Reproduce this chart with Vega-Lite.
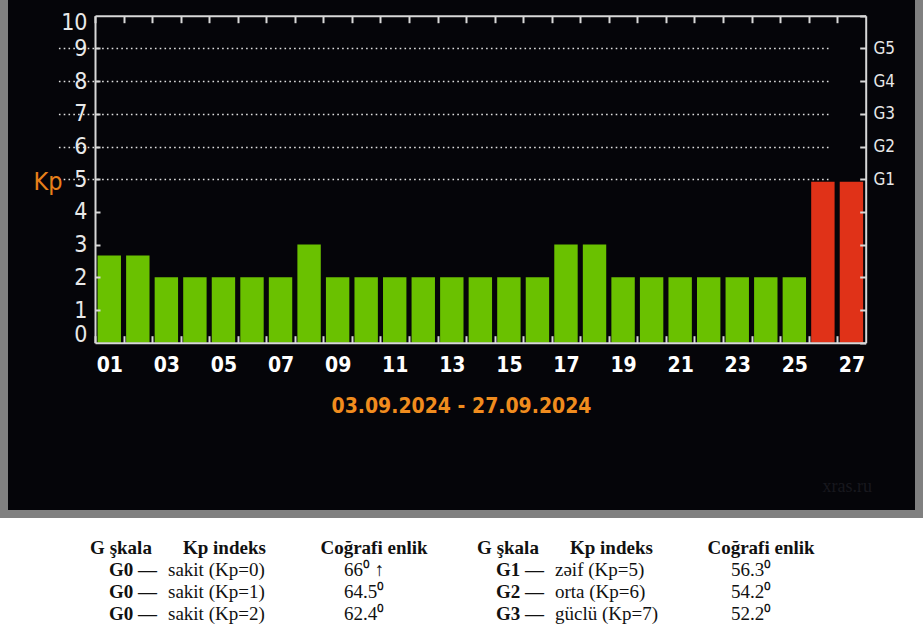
{
  "$schema": "https://vega.github.io/schema/vega-lite/v6.json",
  "background": "#808080",
  "padding": 0,
  "bounds": "flush",
  "spacing": 16,
  "datasets": {
    "kp": [
      {"day": "01", "kp": 2.67}, {"day": "02", "kp": 2.67}, {"day": "03", "kp": 2},
      {"day": "04", "kp": 2}, {"day": "05", "kp": 2}, {"day": "06", "kp": 2},
      {"day": "07", "kp": 2}, {"day": "08", "kp": 3}, {"day": "09", "kp": 2},
      {"day": "10", "kp": 2}, {"day": "11", "kp": 2}, {"day": "12", "kp": 2},
      {"day": "13", "kp": 2}, {"day": "14", "kp": 2}, {"day": "15", "kp": 2},
      {"day": "16", "kp": 2}, {"day": "17", "kp": 3}, {"day": "18", "kp": 3},
      {"day": "19", "kp": 2}, {"day": "20", "kp": 2}, {"day": "21", "kp": 2},
      {"day": "22", "kp": 2}, {"day": "23", "kp": 2}, {"day": "24", "kp": 2},
      {"day": "25", "kp": 2}, {"day": "26", "kp": 4.92}, {"day": "27", "kp": 4.92}
    ],
    "table": [
      {"side": "L", "row": 0, "col": "hg", "text": "G şkala"},
      {"side": "L", "row": 0, "col": "hk", "text": "Kp indeks"},
      {"side": "L", "row": 0, "col": "hc", "text": "Coğrafi enlik"},
      {"side": "R", "row": 0, "col": "hg", "text": "G şkala"},
      {"side": "R", "row": 0, "col": "hk", "text": "Kp indeks"},
      {"side": "R", "row": 0, "col": "hc", "text": "Coğrafi enlik"},
      {"side": "L", "row": 1, "col": "g", "text": "G0 —"},
      {"side": "L", "row": 1, "col": "k", "text": "sakit (Kp=0)"},
      {"side": "L", "row": 1, "col": "c", "text": "66⁰ ↑"},
      {"side": "L", "row": 2, "col": "g", "text": "G0 —"},
      {"side": "L", "row": 2, "col": "k", "text": "sakit (Kp=1)"},
      {"side": "L", "row": 2, "col": "c", "text": "64.5⁰"},
      {"side": "L", "row": 3, "col": "g", "text": "G0 —"},
      {"side": "L", "row": 3, "col": "k", "text": "sakit (Kp=2)"},
      {"side": "L", "row": 3, "col": "c", "text": "62.4⁰"},
      {"side": "R", "row": 1, "col": "g", "text": "G1 —"},
      {"side": "R", "row": 1, "col": "k", "text": "zəif (Kp=5)"},
      {"side": "R", "row": 1, "col": "c", "text": "56.3⁰"},
      {"side": "R", "row": 2, "col": "g", "text": "G2 —"},
      {"side": "R", "row": 2, "col": "k", "text": "orta (Kp=6)"},
      {"side": "R", "row": 2, "col": "c", "text": "54.2⁰"},
      {"side": "R", "row": 3, "col": "g", "text": "G3 —"},
      {"side": "R", "row": 3, "col": "k", "text": "güclü (Kp=7)"},
      {"side": "R", "row": 3, "col": "c", "text": "52.2⁰"}
    ]
  },
  "vconcat": [
    {
      "width": 907,
      "height": 510,
      "view": {"fill": "#050509", "stroke": null},
      "title": {
        "text": "xras.ru", "orient": "bottom", "anchor": "end", "frame": "group",
        "offset": -32, "dx": -43, "color": "#18181e", "font": "Liberation Serif",
        "fontSize": 18, "fontWeight": "normal", "baseline": "top"
      },
      "data": {"name": "kp"},
      "layer": [
        {
          "mark": {"type": "bar", "width": {"band": 0.82}},
          "encoding": {
            "x": {
              "field": "day", "type": "ordinal",
              "scale": {"type": "band", "range": [87, 857.7], "paddingInner": 0, "paddingOuter": 0},
              "axis": {
                "orient": "bottom", "offset": -494.3, "zindex": 1,
                "values": ["01","02","03","04","05","06","07","08","09","10","11","12","13","14","15","16","17","18","19","20","21","22","23","24","25","26","27"],
                "tickOffset": -14.27,
                "labelExpr": "parseInt(datum.value) % 2 == 1 ? datum.value : ''",
                "labelOffset": 14.27, "labelAngle": 0, "labelOverlap": false,
                "tickSize": 7, "tickWidth": 2, "tickColor": "#d8d8d8",
                "domainColor": "#d8d8d8", "domainWidth": 2,
                "labelColor": "#ffffff", "labelFont": "DejaVu Sans Condensed",
                "labelFontSize": 21, "labelFontWeight": "bold", "labelPadding": 332,
                "title": "03.09.2024 - 27.09.2024", "titleColor": "#f08c1e",
                "titleFont": "DejaVu Sans Condensed", "titleFontSize": 21,
                "titleFontWeight": "bold", "titleX": 453, "titleY": 390.3,
                "titleAlign": "center", "titleBaseline": "middle",
                "grid": false
              }
            },
            "y": {
              "field": "kp", "type": "quantitative",
              "scale": {"domain": [0, 10], "range": [342.7, 15.7], "nice": false},
              "axis": {
                "orient": "left", "offset": -857.7, "zindex": 1,
                "values": [0,1,2,3,4,5,6,7,8,9,10],
                "labelOverlap": false,
                "tickSize": 6, "tickWidth": 2, "tickColor": "#d8d8d8",
                "domainColor": "#d8d8d8", "domainWidth": 2,
                "labelColor": "#e8e8e8", "labelFont": "DejaVu Sans Condensed",
                "labelFontSize": 23, "labelPadding": 772.7, "labelFlush": true, "labelFlushOffset": 4,
                "title": "Kp", "titleAngle": 0, "titleColor": "#e8801a",
                "titleFont": "DejaVu Sans Condensed", "titleFontSize": 25, "titleFontWeight": "normal",
                "titleX": -803.7, "titleY": 181, "titleAlign": "right", "titleBaseline": "middle",
                "grid": false
              }
            },
            "color": {"condition": {"test": "datum.kp >= 4.5", "value": "#e03218"}, "value": "#6ac100"}
          }
        },
        {
          "mark": {"type": "bar", "opacity": 0, "width": {"band": 0.82}},
          "encoding": {
            "x": {
              "field": "day", "type": "ordinal",
              "scale": {"type": "band", "range": [87, 857.7], "paddingInner": 0, "paddingOuter": 0},
              "axis": {
                "orient": "top", "offset": -342.7, "zindex": 1,
                "values": ["01","02","03","04","05","06","07","08","09","10","11","12","13","14","15","16","17","18","19","20","21","22","23","24","25","26","27"],
                "tickOffset": -14.27, "labels": false,
                "tickSize": 7, "tickWidth": 2, "tickColor": "#d8d8d8",
                "domainColor": "#d8d8d8", "domainWidth": 2,
                "title": null, "grid": false
              }
            },
            "y": {
              "field": "kp", "type": "quantitative",
              "scale": {"domain": [0, 10], "range": [342.7, 15.7], "nice": false},
              "axis": {
                "orient": "right", "offset": -820, "zindex": 1,
                "values": [1,2,3,4,5,6,7,8,9],
                "labelOverlap": false,
                "labelExpr": "datum.value >= 5 ? 'G' + (datum.value - 4) : ''",
                "tickSize": 5, "tickWidth": 2, "tickColor": "#d8d8d8",
                "domainColor": "#d8d8d8", "domainWidth": 2,
                "labelColor": "#e8e8e8", "labelFont": "DejaVu Sans Condensed",
                "labelFontSize": 17, "labelPadding": 773,
                "grid": true, "gridColor": "#e0e0e0", "gridDash": [1.6, 3.2], "gridWidth": 1.6,
                "gridOpacity": {"condition": {"test": "datum.value >= 5", "value": 1}, "value": 0},
                "title": null
              }
            }
          }
        }
      ],
      "resolve": {"scale": {"x": "independent", "y": "independent"}}
    },
    {
      "width": 907,
      "height": 104,
      "view": {"fill": "#ffffff", "stroke": "#ffffff", "strokeWidth": 16},
      "data": {"name": "table"},
      "encoding": {
        "x": {"field": "side", "type": "nominal", "scale": {"type": "point", "domain": ["L", "R"], "range": [149, 536], "padding": 0}, "axis": null},
        "y": {"field": "row", "type": "ordinal", "scale": {"type": "point", "domain": [0, 1, 2, 3], "range": [22, 88], "padding": 0}, "axis": null},
        "text": {"field": "text"}
      },
      "layer": [
        {"transform": [{"filter": "datum.col == 'hg'"}], "mark": {"type": "text", "align": "center", "baseline": "middle", "dx": -36, "font": "Liberation Serif", "fontSize": 19, "fontWeight": "bold", "color": "#111111"}},
        {"transform": [{"filter": "datum.col == 'hk'"}], "mark": {"type": "text", "align": "left", "baseline": "middle", "dx": 26, "font": "Liberation Serif", "fontSize": 19, "fontWeight": "bold", "color": "#111111"}},
        {"transform": [{"filter": "datum.col == 'hc'"}], "mark": {"type": "text", "align": "center", "baseline": "middle", "dx": 217, "font": "Liberation Serif", "fontSize": 19, "fontWeight": "bold", "color": "#111111"}},
        {"transform": [{"filter": "datum.col == 'g'"}], "mark": {"type": "text", "align": "right", "baseline": "middle", "dx": 0, "font": "Liberation Serif", "fontSize": 19, "fontWeight": "bold", "color": "#111111"}},
        {"transform": [{"filter": "datum.col == 'k'"}], "mark": {"type": "text", "align": "left", "baseline": "middle", "dx": 11, "font": "Liberation Serif", "fontSize": 19, "fontWeight": "normal", "color": "#111111"}},
        {"transform": [{"filter": "datum.col == 'c'"}], "mark": {"type": "text", "align": "center", "baseline": "middle", "dx": 207, "font": "Liberation Serif", "fontSize": 19, "fontWeight": "normal", "color": "#111111"}}
      ]
    }
  ]
}
